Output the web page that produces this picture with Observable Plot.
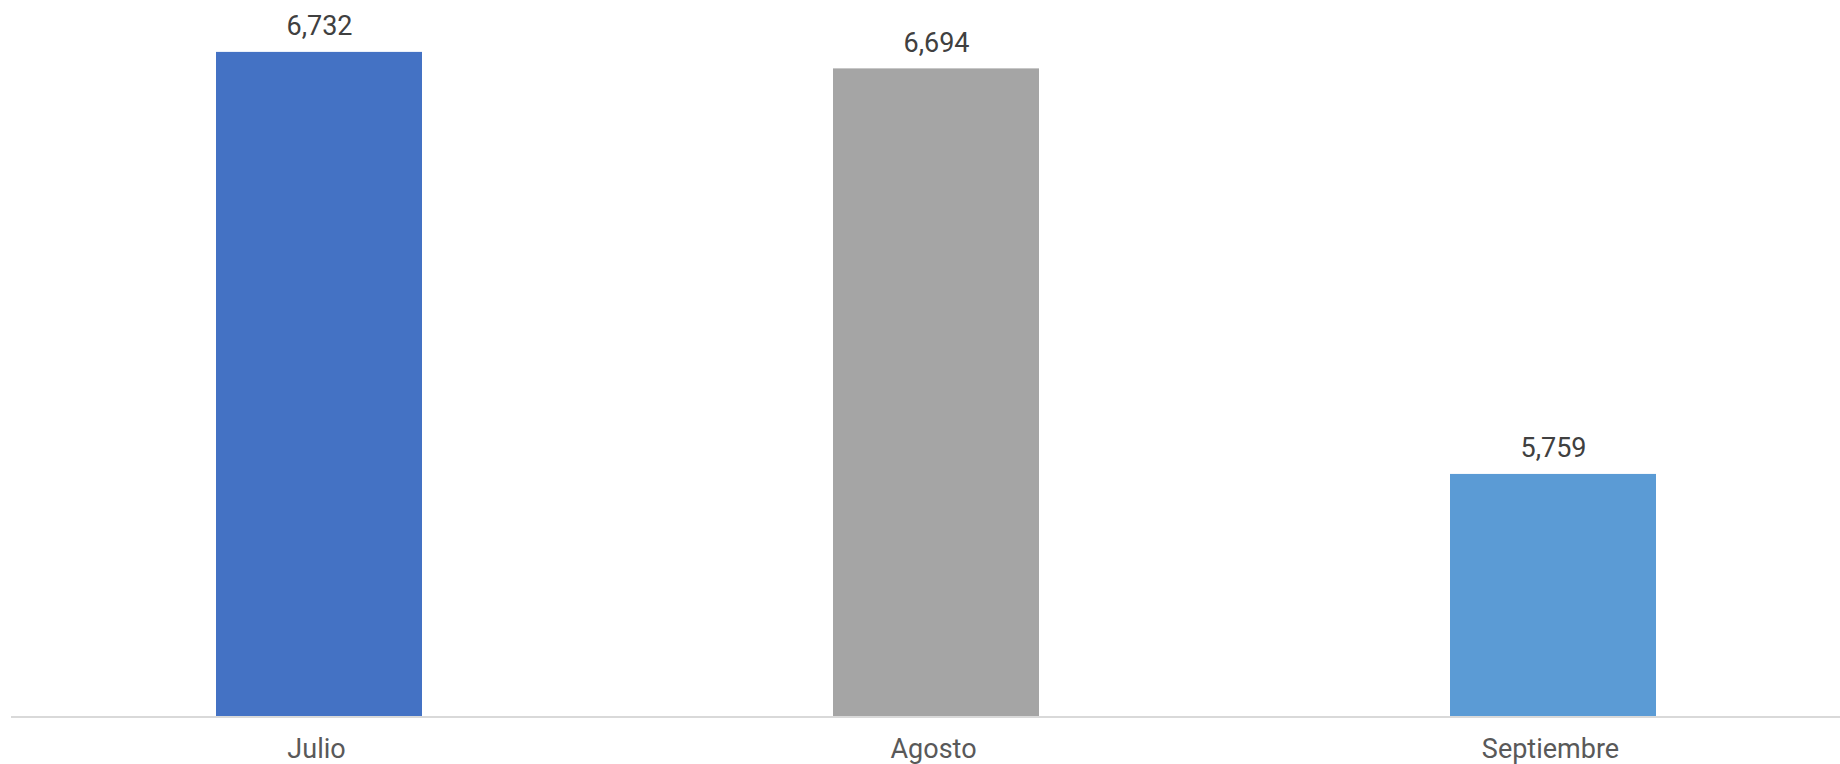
<!DOCTYPE html>
<html>
<head>
<meta charset="utf-8">
<script src="https://cdn.jsdelivr.net/npm/d3@7"></script>
<script src="https://cdn.jsdelivr.net/npm/@observablehq/plot@0.6"></script>
<style>
  html, body { margin: 0; padding: 0; background: #fff; }
  #chart svg { display: block; }
</style>
</head>
<body>
<div id="chart"></div>
<script>
const meses = ["Julio", "Agosto", "Septiembre"];
const valores = [6732, 6694, 5759];
const colores = ["#4472C4", "#A5A5A5", "#5B9BD5"];
const baseValor = 5200;

const data = meses.map((m, i) => ({mes: m, valor: valores[i], color: colores[i]}));
const fmt = d3.format(",");

const chart = Plot.plot({
  width: 1840,
  height: 764,
  marginLeft: 11,
  marginRight: 0,
  marginTop: 0,
  marginBottom: 48,
  style: {fontFamily: "Roboto, 'Noto Sans', sans-serif", fontSize: "27px", background: "#fff"},
  x: {type: "band", domain: meses, range: [10.5, 1861.5], paddingInner: 0.666, paddingOuter: 0.333, axis: null},
  y: {domain: [5200, 6800], range: [716.4, 22.4], axis: null},
  color: {type: "identity"},
  marks: [
    Plot.barY(data, {x: "mes", y1: baseValor, y2: "valor", fill: "color"}),
    Plot.ruleY([baseValor], {stroke: "#d9d9d9", strokeWidth: 2}),
    Plot.text(data, {x: "mes", y: "valor", text: d => fmt(d.valor), dy: -17, lineAnchor: "bottom", fill: "#404040", fontSize: 27}),
    Plot.axisX({domain: meses, tickSize: 0, tickPadding: 22, dx: -3, fontSize: 27, color: "#595959", label: null})
  ]
});
document.getElementById("chart").appendChild(chart);
</script>
</body>
</html>
